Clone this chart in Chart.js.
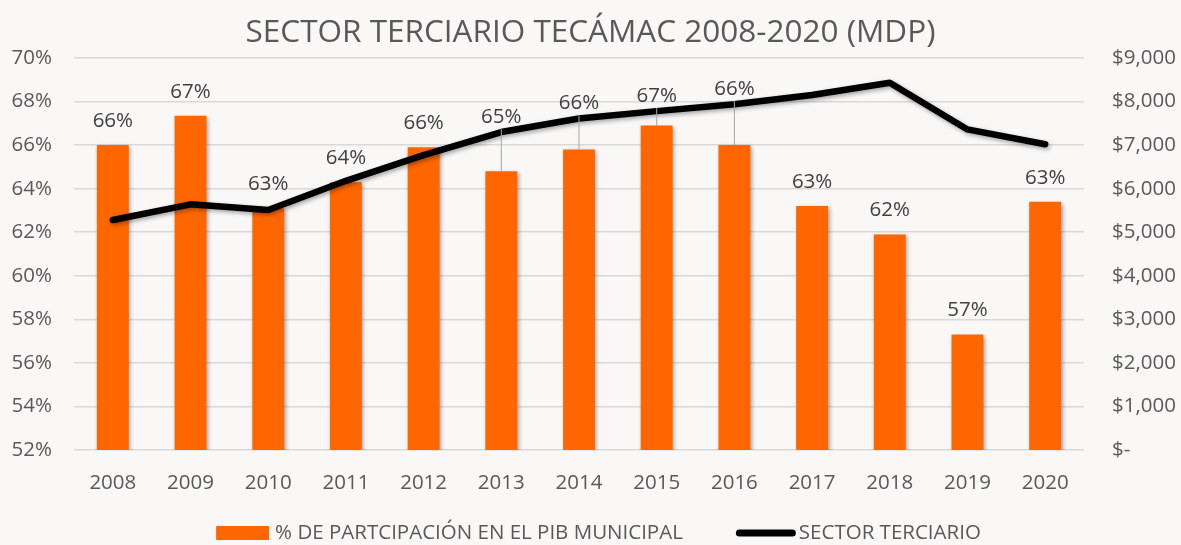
<!DOCTYPE html>
<html><head><meta charset="utf-8">
<script src="https://cdn.jsdelivr.net/npm/chart.js@4.4.1/dist/chart.umd.min.js"></script>
<style>html,body{margin:0;padding:0;background:#f9f8f7;}#wrap{width:1181px;height:545px;}</style>
</head><body><div id="wrap"><canvas id="c" width="1181" height="545"></canvas></div>
<script>
const categories = ['2008','2009','2010','2011','2012','2013','2014','2015','2016','2017','2018','2019','2020'];
const participacion = [66.0, 67.35, 63.1, 64.3, 65.9, 64.8, 65.8, 66.9, 66.0, 63.2, 61.9, 57.3, 63.4];
const sectorTerciario = [5280, 5640, 5510, 6180, 6770, 7300, 7610, 7780, 7940, 8150, 8430, 7360, 7020];
const seriesNames = ['% DE PARTCIPACIÓN EN EL PIB MUNICIPAL', 'SECTOR TERCIARIO'];
const titleText = 'SECTOR TERCIARIO TECÁMAC 2008-2020 (MDP)';
const pctTickMin = 52, pctTickMax = 70, pctTickStep = 2;
const moneyTickMin = 0, moneyTickMax = 9000, moneyTickStep = 1000;

const FONT = "'Open Sans', sans-serif";
const ORANGE = '#FF6600';
const TXT = '#595959';

const shadowPlugin = {
  id: 'shadow',
  beforeDatasetDraw(chart, args) {
    const ctx = chart.ctx;
    ctx.save();
    ctx.shadowColor = 'rgba(0,0,0,0.35)';
    ctx.shadowBlur = 4;
    ctx.shadowOffsetX = 1.5;
    ctx.shadowOffsetY = 2;
  },
  afterDatasetDraw(chart) { chart.ctx.restore(); }
};

const labelPlugin = {
  id: 'barLabels',
  afterDatasetsDraw(chart) {
    const ctx = chart.ctx;
    const bars = chart.getDatasetMeta(0).data;
    const pts = chart.getDatasetMeta(1).data;
    ctx.save();
    ctx.font = '20.5px ' + FONT;
    ctx.fillStyle = '#404040';
    ctx.textAlign = 'center';
    ctx.textBaseline = 'middle';
    bars.forEach((b, i) => {
      const top = b.y;
      let ly = top - 24;
      const lineY = pts[i].y;
      let leader = false;
      if (lineY > ly - 30 && lineY < ly + 18) { ly = lineY - 15; leader = true; }
      if (leader && top - (ly + 12) > 3) {
        ctx.strokeStyle = '#a6a6a6';
        ctx.lineWidth = 1;
        ctx.beginPath();
        ctx.moveTo(b.x, ly + 12);
        ctx.lineTo(b.x, top);
        ctx.stroke();
      }
      ctx.fillText(Math.round(participacion[i]) + '%', b.x, ly);
    });
    ctx.restore();
  }
};

const legendPlugin = {
  id: 'customLegend',
  afterDraw(chart) {
    const ctx = chart.ctx;
    ctx.save();
    ctx.font = '20.5px ' + FONT;
    ctx.textBaseline = 'middle';
    ctx.textAlign = 'left';
    const ds = chart.data.datasets;
    const w1 = ctx.measureText(ds[0].label).width;
    const w2 = ctx.measureText(ds[1].label).width;
    const total = 53 + 6 + w1 + 53 + 60 + 3 + w2;
    let x = chart.width / 2 + 8 - total / 2;
    const y = 533;
    ctx.fillStyle = ORANGE;
    ctx.fillRect(x, y - 7, 53, 14);
    x += 59;
    ctx.fillStyle = TXT;
    ctx.fillText(ds[0].label, x, y);
    x += w1 + 53;
    ctx.strokeStyle = '#000';
    ctx.lineWidth = 7;
    ctx.lineCap = 'round';
    ctx.beginPath();
    ctx.moveTo(x + 3.5, y);
    ctx.lineTo(x + 56.5, y);
    ctx.stroke();
    x += 63;
    ctx.fillText(ds[1].label, x, y);
    ctx.restore();
  }
};

const bgPlugin = {
  id: 'bg',
  beforeDraw(chart) {
    const ctx = chart.ctx;
    ctx.save();
    ctx.fillStyle = '#f9f8f7';
    ctx.fillRect(0, 0, chart.width, chart.height);
    ctx.restore();
  }
};

new Chart(document.getElementById('c'), {
  data: {
    labels: categories,
    datasets: [
      { type: 'bar', label: seriesNames[0], data: participacion, backgroundColor: ORANGE,
        yAxisID: 'y', order: 1, barPercentage: 0.41, categoryPercentage: 1 },
      { type: 'line', label: seriesNames[1], data: sectorTerciario, borderColor: '#000',
        borderWidth: 6.5, pointRadius: 0, pointHoverRadius: 0, tension: 0, yAxisID: 'y1', order: 0,
        borderCapStyle: 'round', borderJoinStyle: 'round' }
    ]
  },
  options: {
    responsive: false,
    animation: false,
    devicePixelRatio: 1,
    layout: { padding: 0 },
    plugins: {
      legend: { display: false },
      tooltip: { enabled: false },
      title: { display: true, text: titleText, color: TXT,
        font: { family: FONT, size: 31.5, weight: 'normal', lineHeight: 1.2 },
        padding: { top: 14, bottom: 6.2 } }
    },
    scales: {
      x: {
        grid: { display: false, drawTicks: false },
        border: { display: false },
        ticks: { color: TXT, font: { family: FONT, size: 20.5 }, padding: 21 },
        afterFit(s) { s.height = 95; }
      },
      y: {
        position: 'left', min: pctTickMin, max: pctTickMax,
        ticks: { stepSize: pctTickStep, color: TXT, font: { family: FONT, size: 20.5 }, padding: 22,
          callback: v => v + '%' },
        grid: { color: '#d9d9d9', lineWidth: 1.5, drawTicks: false },
        border: { display: false },
        afterFit(s) { s.width = 74; }
      },
      y1: {
        position: 'right', min: moneyTickMin, max: moneyTickMax,
        ticks: { stepSize: moneyTickStep, color: TXT, font: { family: FONT, size: 20.5 }, padding: 28,
          callback: v => v === 0 ? '$-' : '$' + v.toLocaleString('en-US') },
        grid: { display: false, drawTicks: false },
        border: { display: false },
        afterFit(s) { s.width = 97; }
      }
    }
  },
  plugins: [bgPlugin, shadowPlugin, labelPlugin, legendPlugin]
});
</script></body></html>
